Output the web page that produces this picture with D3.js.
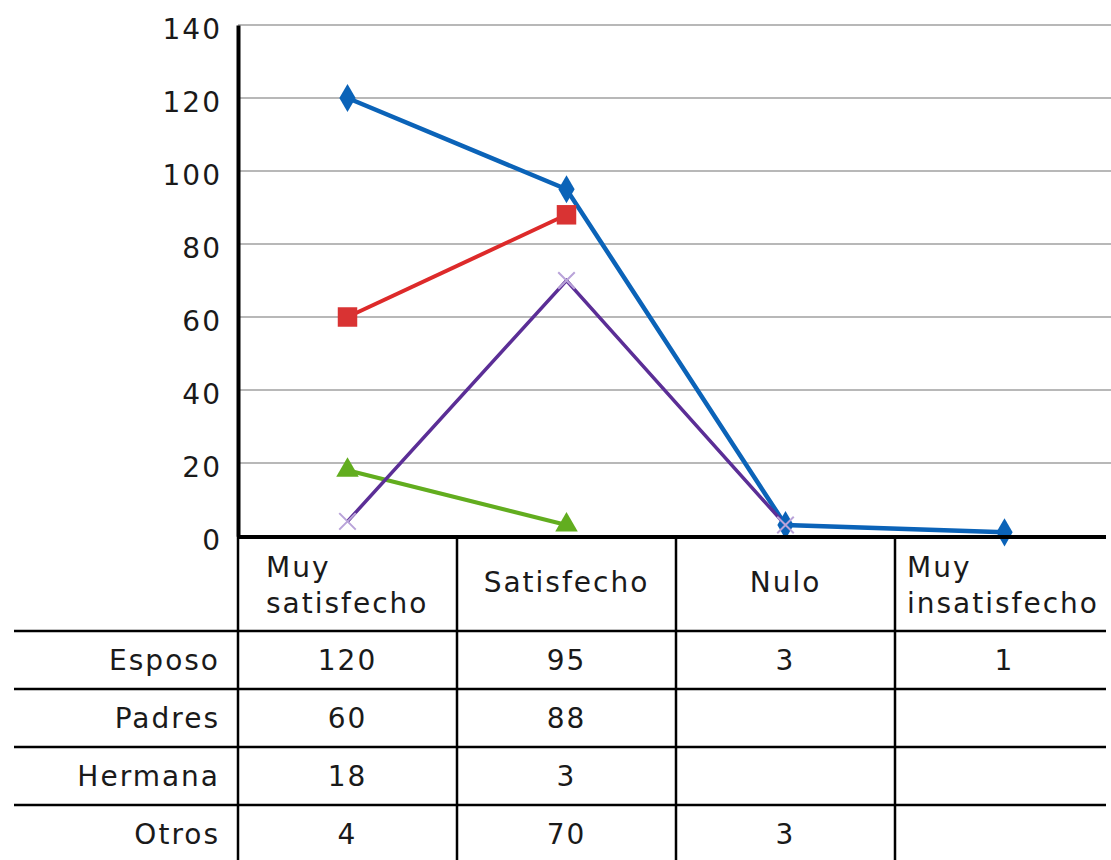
<!DOCTYPE html>
<html>
<head>
<meta charset="utf-8">
<script src="https://cdn.jsdelivr.net/npm/d3@7"></script>
<style>
  body { margin: 0; background: #fff; }
  text { font-family: "DejaVu Sans", Verdana, sans-serif; fill: #1a1a1a; }
</style>
</head>
<body>
<script>
// categories (x) and series
var categories = ["Muy satisfecho", "Satisfecho", "Nulo", "Muy insatisfecho"];
var headerLines = [["Muy", "satisfecho"], ["Satisfecho"], ["Nulo"], ["Muy", "insatisfecho"]];
var seriesNames = ["Esposo", "Padres", "Hermana", "Otros"];
var esposo  = [120, 95, 3, 1];
var padres  = [60, 88, null, null];
var hermana = [18, 3, null, null];
var otros   = [4, 70, 3, null];
var yTicks = [0, 20, 40, 60, 80, 100, 120, 140];

var allSeries = [esposo, padres, hermana, otros];
var colors = ["#0b63b8", "#dd2a2a", "#62ad1f", "#5b2e96"];
var markerFill = ["#0b63b8", "#d93333", "#62ad1f", "#b9a3d9"];
var symbols = [d3.symbolDiamond, d3.symbolSquare, d3.symbolTriangle, d3.symbolX];
var symSize = [230, 380, 220, 180];

var w = 1111, h = 860;
var plotLeft = 238, plotTop = 25, plotBottom = 536;
var colW = 219;
var fs = 28;

var svg = d3.select("body").append("svg")
  .attr("width", w)
  .attr("height", h);

var x = d3.scaleBand()
  .domain(categories)
  .range([plotLeft, plotLeft + colW * categories.length]);

var y = d3.scaleLinear()
  .domain([0, 140])
  .range([plotBottom, plotTop]);

// gridlines
svg.append("g")
  .selectAll("line")
  .data(yTicks.filter(d => d > 0))
  .enter().append("line")
  .attr("x1", plotLeft).attr("x2", w)
  .attr("y1", d => y(d)).attr("y2", d => y(d))
  .attr("stroke", "#b8b8b8")
  .attr("stroke-width", 2);

// y axis
var yAxis = d3.axisLeft(y).tickValues(yTicks).tickSize(0).tickPadding(16);
var gy = svg.append("g")
  .attr("transform", `translate(${plotLeft}, 0)`)
  .call(yAxis);
gy.select(".domain").attr("stroke", "#000").attr("stroke-width", 4);
gy.selectAll("text")
  .style("font-size", fs + "px")
  .style("letter-spacing", "2px")
  .style("font-family", "DejaVu Sans, Verdana, sans-serif")
  .attr("fill", "#1a1a1a")
  .attr("dy", "0.48em");

// lines
var line = d3.line()
  .defined(d => d != null)
  .x((d, i) => x(categories[i]) + x.bandwidth() / 2)
  .y(d => y(d));

allSeries.forEach((s, k) => {
  svg.append("path")
    .datum(s)
    .attr("d", line)
    .attr("fill", "none")
    .attr("stroke", colors[k])
    .attr("stroke-width", k == 0 ? 4.5 : k == 3 ? 3.5 : 4);
});

// markers
allSeries.forEach((s, k) => {
  svg.append("g").selectAll("path")
    .data(s.map((v, i) => [i, v]).filter(d => d[1] != null))
    .enter().append("path")
    .attr("d", d3.symbol().type(symbols[k]).size(symSize[k]))
    .attr("transform", d => `translate(${x(categories[d[0]]) + x.bandwidth() / 2}, ${y(d[1])})`)
    .attr("fill", k == 3 ? "none" : markerFill[k])
    .attr("stroke", k == 3 ? markerFill[k] : "none")
    .attr("stroke-width", 2);
});

// x axis (thick baseline)
svg.append("line")
  .attr("x1", plotLeft).attr("x2", 1106)
  .attr("y1", plotBottom + 1).attr("y2", plotBottom + 1)
  .attr("stroke", "#000")
  .attr("stroke-width", 4);

// data table
var headerBottom = 631, rowH = 58;
var table = svg.append("g");

// vertical separators
table.selectAll(".vline")
  .data(categories)
  .enter().append("line")
  .attr("x1", d => x(d)).attr("x2", d => x(d))
  .attr("y1", plotBottom).attr("y2", h)
  .attr("stroke", "#000")
  .attr("stroke-width", 2.5);

// horizontal row lines
table.selectAll(".hline")
  .data(seriesNames)
  .enter().append("line")
  .attr("x1", 14).attr("x2", 1106)
  .attr("y1", (d, i) => headerBottom + i * rowH)
  .attr("y2", (d, i) => headerBottom + i * rowH)
  .attr("stroke", "#000")
  .attr("stroke-width", 2.5);

// header labels
headerLines.forEach((lines, i) => {
  var cx = x(categories[i]);
  var t = table.append("text")
    .style("font-size", fs + "px")
    .style("letter-spacing", "2px");
  if (lines.length == 1) {
    t.attr("x", cx + x.bandwidth() / 2)
      .attr("y", 582)
      .attr("dy", "0.36em")
      .attr("text-anchor", "middle")
      .text(lines[0]);
  } else {
    lines.forEach((l, j) => {
      t.append("tspan")
        .attr("x", cx + (i == 0 ? 28 : 12))
        .attr("y", 567 + j * 36)
        .attr("dy", "0.36em")
        .text(l);
    });
  }
});

// row labels + values
seriesNames.forEach((name, r) => {
  var cy = headerBottom + r * rowH + rowH / 2;
  table.append("text")
    .attr("x", 220)
    .attr("y", cy)
    .attr("dy", "0.36em")
    .attr("text-anchor", "end")
    .style("font-size", fs + "px")
    .style("letter-spacing", "2px")
    .text(name);
  table.selectAll(null)
    .data(allSeries[r].map((v, i) => [i, v]).filter(d => d[1] != null))
    .enter().append("text")
    .attr("x", d => x(categories[d[0]]) + x.bandwidth() / 2)
    .attr("y", cy)
    .attr("dy", "0.36em")
    .attr("text-anchor", "middle")
    .style("font-size", fs + "px")
    .style("letter-spacing", "2px")
    .text(d => d[1]);
});
</script>
</body>
</html>
